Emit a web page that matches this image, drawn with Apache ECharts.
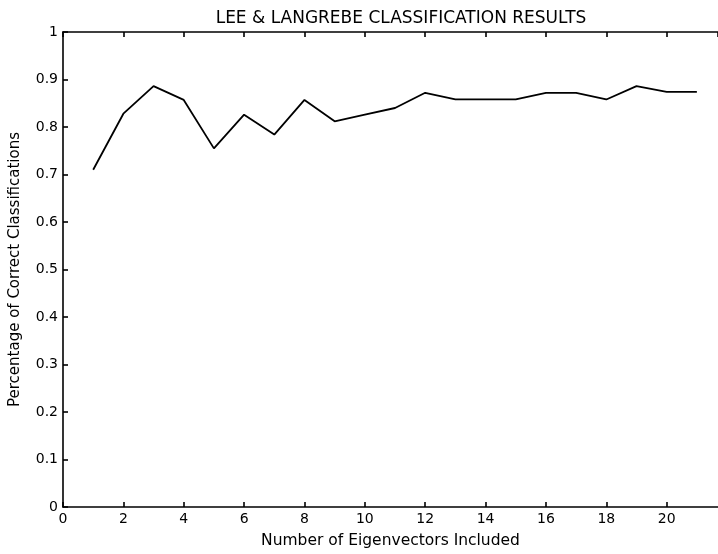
<!DOCTYPE html>
<html>
<head>
<meta charset="utf-8">
<script src="https://cdn.jsdelivr.net/npm/echarts@6/dist/echarts.min.js"></script>
<style>
  html, body { margin: 0; padding: 0; background: #fff; }
  #chart { width: 718px; height: 554px; }
</style>
</head>
<body>
<div id="chart"></div>
<script>
// Number of eigenvectors kept vs. fraction of correct classifications
const eigenCounts = [1, 2, 3, 4, 5, 6, 7, 8, 9, 10, 11, 12, 13, 14, 15, 16, 17, 18, 19, 20, 21];
const correctRate = [0.71, 0.828, 0.886, 0.857, 0.755, 0.826, 0.784, 0.857, 0.812, 0.826, 0.84,
                     0.872, 0.858, 0.858, 0.858, 0.872, 0.872, 0.858, 0.886, 0.874, 0.874];

const titleText = 'LEE & LANGREBE CLASSIFICATION RESULTS';
const xName = 'Number of Eigenvectors Included';
const yName = 'Percentage of Correct Classifications';

const FONT = '"DejaVu Sans", "Liberation Sans", Arial, sans-serif';
const INK = '#000';

const chart = echarts.init(document.getElementById('chart'), null, { renderer: 'canvas' });

const lineStyle = { color: INK, width: 1.6 };

chart.setOption({
  backgroundColor: '#fff',
  animation: false,
  title: {
    text: titleText,
    left: 396,
    textAlign: 'center',
    top: 5,
    textStyle: { fontFamily: FONT, fontSize: 17, fontWeight: 'normal', color: INK }
  },
  grid: { left: 61, top: 32, right: 0, bottom: 44, containLabel: false },
  xAxis: [
    {
      type: 'value',
      min: 0,
      max: 21.7,
      interval: 2,
      position: 'bottom',
      name: xName,
      nameLocation: 'middle',
      nameGap: 26,
      nameTextStyle: { fontFamily: FONT, fontSize: 15.5, color: INK },
      axisLine: { show: true, onZero: false, lineStyle: lineStyle },
      axisTick: { show: true, inside: true, length: 5, lineStyle: lineStyle },
      axisLabel: { fontFamily: FONT, fontSize: 14, color: INK, margin: 5, showMaxLabel: false },
      splitLine: { show: false }
    },
    {
      type: 'value',
      min: 0,
      max: 21.7,
      interval: 2,
      position: 'top',
      axisLine: { show: true, onZero: false, lineStyle: lineStyle },
      axisTick: { show: true, inside: true, length: 5, lineStyle: lineStyle },
      axisLabel: { show: false },
      splitLine: { show: false }
    }
  ],
  yAxis: {
    type: 'value',
    min: 0,
    max: 1,
    interval: 0.1,
    name: yName,
    nameLocation: 'middle',
    nameGap: 40,
    nameRotate: 90,
    nameTextStyle: { fontFamily: FONT, fontSize: 15, color: INK },
    axisLine: { show: true, onZero: false, lineStyle: lineStyle },
    axisTick: { show: true, inside: true, length: 5, lineStyle: lineStyle },
    axisLabel: {
      fontFamily: FONT, fontSize: 14, color: INK, margin: 5,
      formatter: v => String(Math.round(v * 10) / 10)
    },
    splitLine: { show: false }
  },
  series: [{
    type: 'line',
    xAxisIndex: 0,
    data: eigenCounts.map((n, i) => [n, correctRate[i]]),
    symbol: 'none',
    lineStyle: { color: INK, width: 1.8 }
  }]
});
</script>
</body>
</html>
